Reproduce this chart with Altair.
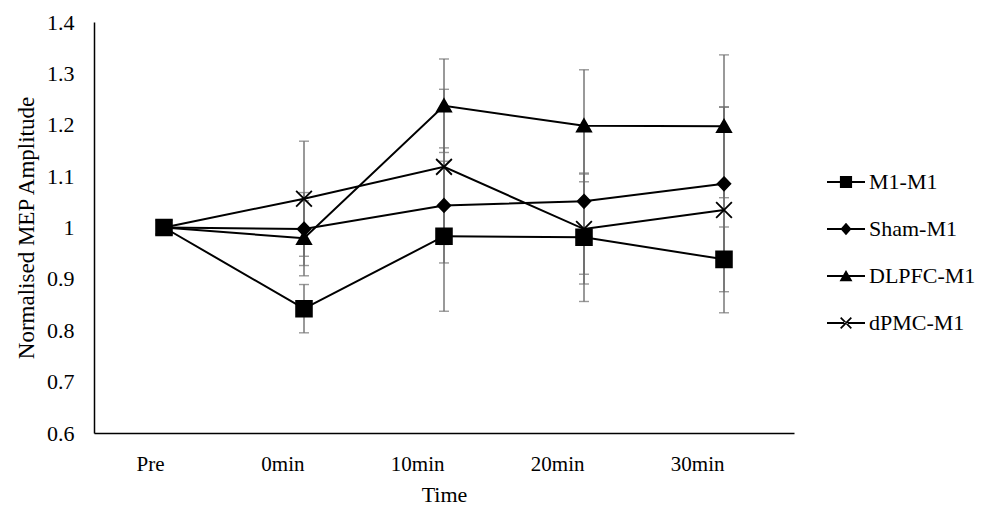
import altair as alt
import pandas as pd

times = ["Pre", "0min", "10min", "20min", "30min"]
series_names = ["M1-M1", "Sham-M1", "DLPFC-M1", "dPMC-M1"]

m1_m1 = [1.0, 0.842, 0.983, 0.981, 0.938]
sham_m1 = [1.0, 0.997, 1.043, 1.051, 1.085]
dlpfc_m1 = [1.0, 0.979, 1.237, 1.198, 1.197]
dpmc_m1 = [1.0, 1.056, 1.118, 0.997, 1.034]

m1_m1_err = [0, 0.047, 0.146, 0.125, 0.063]
sham_m1_err = [0, 0.071, 0.112, 0.142, 0.150]
dlpfc_m1_err = [0, 0.073, 0.091, 0.109, 0.139]
dpmc_m1_err = [0, 0.112, 0.151, 0.107, 0.200]

values = [m1_m1, sham_m1, dlpfc_m1, dpmc_m1]
errors = [m1_m1_err, sham_m1_err, dlpfc_m1_err, dpmc_m1_err]

rows = []
for s, vals, errs in zip(series_names, values, errors):
    for t, v, e in zip(times, vals, errs):
        rows.append({"series": s, "legend_series": s, "time": t, "value": v,
                     "lo": v - e, "hi": v + e, "err": e})
df = pd.DataFrame(rows)
# draw M1-M1 markers last so they sit on top at "Pre"
df_points = pd.concat([df[df.series != "M1-M1"], df[df.series == "M1-M1"]])
df_err = df[df.err > 0]
df_legend = df[df.time == "Pre"]

FONT = "Liberation Serif"

marker_paths = [
    "M-1.05,-1.05H1.05V1.05H-1.05Z",
    "M0,-0.88L0.85,0L0,0.88L-0.85,0Z",
    "M0,-0.88L0.95,0.78H-0.95Z",
    "M-1.05,-1.05L1.05,1.05M-1.05,1.05L1.05,-1.05",
]
LINE = "M-1,-0.05H1V0.05H-1Z"
legend_paths = [
    LINE + "M-0.32,-0.32H0.32V0.32H-0.32Z",
    LINE + "M0,-0.33L0.29,0L0,0.33L-0.29,0Z",
    LINE + "M0,-0.31L0.34,0.27H-0.34Z",
    LINE + "M0.248,0.312L0.312,0.248L-0.248,-0.312L-0.312,-0.248Z"
         + "M-0.248,0.312L-0.312,0.248L0.248,-0.312L0.312,-0.248Z",
]

x_enc = alt.X("time:N", sort=times, scale=alt.Scale(type="point", padding=0.5),
              axis=alt.Axis(title="Time", labelAngle=0, ticks=False, domainColor="black",
                            domainWidth=1.5, labelFont=FONT, labelFontSize=21,
                            labelColor="black", labelPadding=31, titleFont=FONT,
                            titleFontSize=22, titleFontWeight="normal", titleColor="black",
                            titlePadding=10, grid=False))
y_scale = alt.Scale(domain=[0.6, 1.4], nice=False, zero=False)
y_enc = alt.Y("value:Q", scale=y_scale,
              axis=alt.Axis(title="Normalised MEP Amplitude", values=[0.6, 0.7, 0.8, 0.9, 1.0, 1.1, 1.2, 1.3, 1.4],
                            format="~g", ticks=False, grid=False, domainColor="black",
                            domainWidth=1.5, labelFont=FONT, labelFontSize=22,
                            labelColor="black", labelPadding=20, titleFont=FONT,
                            titleFontSize=23, titleFontWeight="normal", titleColor="black",
                            titlePadding=8))

base = alt.Chart(df)

ERR_COLOR = "#6e6e6e"
err_rule = alt.Chart(df_err).mark_rule(color=ERR_COLOR, strokeWidth=1.4).encode(
    x=alt.X("time:N", sort=times), y=alt.Y("lo:Q", scale=y_scale), y2="hi:Q")
err_lo = alt.Chart(df_err).mark_tick(color=ERR_COLOR, size=10, thickness=1.4).encode(
    x=alt.X("time:N", sort=times), y=alt.Y("lo:Q", scale=y_scale))
err_hi = alt.Chart(df_err).mark_tick(color=ERR_COLOR, size=10, thickness=1.4).encode(
    x=alt.X("time:N", sort=times), y=alt.Y("hi:Q", scale=y_scale))

lines = base.mark_line(color="black", strokeWidth=2).encode(
    x=x_enc, y=y_enc, detail="series:N")

points = alt.Chart(df_points).mark_point(filled=True, fill="black", stroke="black",
                                          strokeWidth=1.8, size=225, opacity=1).encode(
    x=alt.X("time:N", sort=times), y=alt.Y("value:Q", scale=y_scale),
    shape=alt.Shape("series:N", scale=alt.Scale(domain=series_names, range=marker_paths), legend=None))

legend_layer = alt.Chart(df_legend).mark_point(filled=True, fill="black", size=1444,
                                                opacity=0).encode(
    x=alt.X("time:N", sort=times), y=alt.Y("value:Q", scale=y_scale),
    shape=alt.Shape("legend_series:N", scale=alt.Scale(domain=series_names, range=legend_paths),
                    legend=alt.Legend(title=None, orient="none", legendX=732, legendY=140,
                                      symbolSize=1444, symbolFillColor="black",
                                      symbolOpacity=1, labelFont=FONT, labelFontSize=22,
                                      labelColor="black", labelOffset=3, rowPadding=16,
                                      labelLimit=300)))

chart = alt.layer(err_rule, err_lo, err_hi, lines, points, legend_layer).resolve_scale(
    shape="independent"
).properties(
    width=700, height=411,
    padding={"left": 7, "top": 3, "right": 5, "bottom": 5},
    background="white",
).configure_view(stroke=None)

chart.save("out.html", embed_options={"renderer": "svg", "actions": False})
